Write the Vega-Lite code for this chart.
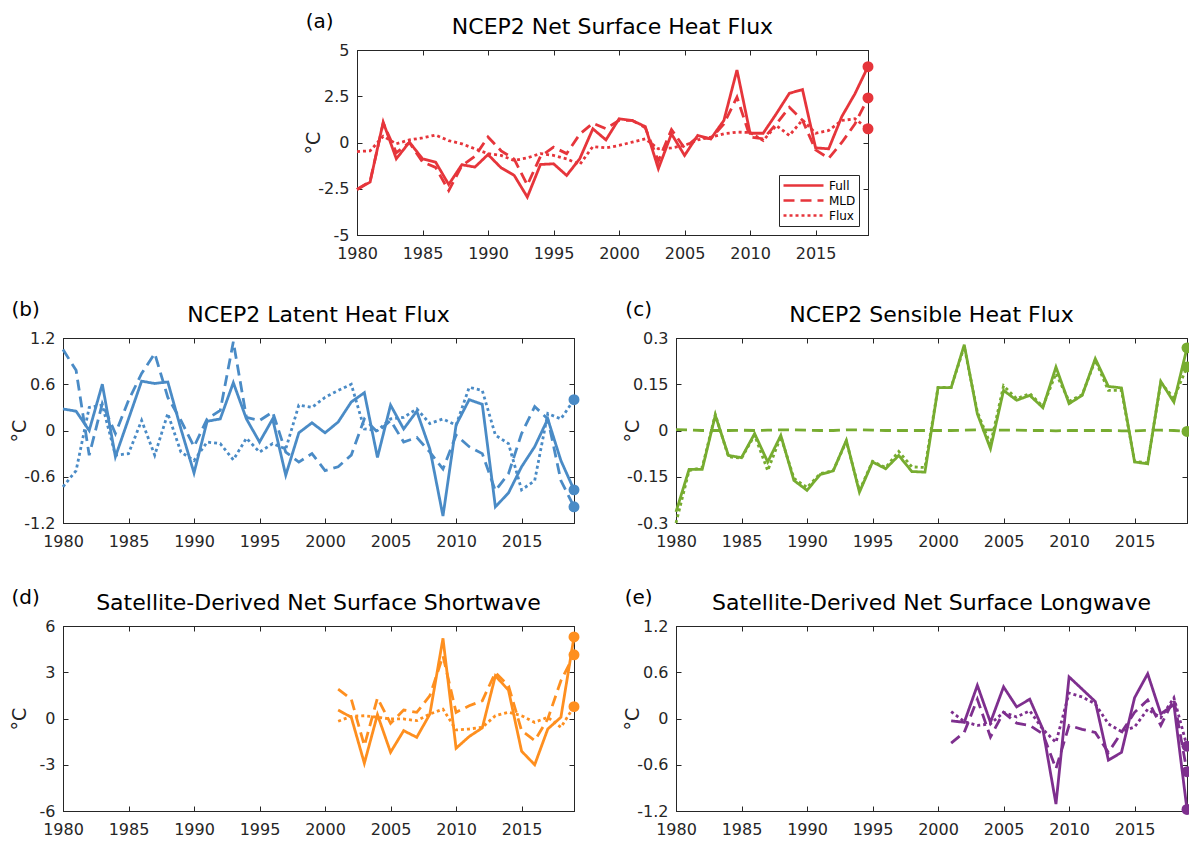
{
  "$schema": "https://vega.github.io/schema/vega-lite/v6.json",
  "padding": {"left": 9, "top": 11, "right": 0, "bottom": 0},
  "background": "white",
  "datasets": {
    "a": [
      {"year":1980,"series":"Full","value":-2.54},{"year":1981,"series":"Full","value":-2.14},{"year":1982,"series":"Full","value":1.10},{"year":1983,"series":"Full","value":-0.88},{"year":1984,"series":"Full","value":0.02},{"year":1985,"series":"Full","value":-0.88},{"year":1986,"series":"Full","value":-1.06},{"year":1987,"series":"Full","value":-2.27},{"year":1988,"series":"Full","value":-1.2},{"year":1989,"series":"Full","value":-1.33},{"year":1990,"series":"Full","value":-0.65},{"year":1991,"series":"Full","value":-1.37},{"year":1992,"series":"Full","value":-1.78},{"year":1993,"series":"Full","value":-2.95},{"year":1994,"series":"Full","value":-1.19},{"year":1995,"series":"Full","value":-1.15},{"year":1996,"series":"Full","value":-1.78},{"year":1997,"series":"Full","value":-0.88},{"year":1998,"series":"Full","value":0.74},{"year":1999,"series":"Full","value":0.14},{"year":2000,"series":"Full","value":1.28},{"year":2001,"series":"Full","value":1.19},{"year":2002,"series":"Full","value":0.86},{"year":2003,"series":"Full","value":-1.42},{"year":2004,"series":"Full","value":0.47},{"year":2005,"series":"Full","value":-0.70},{"year":2006,"series":"Full","value":0.38},{"year":2007,"series":"Full","value":0.2},{"year":2008,"series":"Full","value":1.19},{"year":2009,"series":"Full","value":3.92},{"year":2010,"series":"Full","value":0.5},{"year":2011,"series":"Full","value":0.5},{"year":2012,"series":"Full","value":1.55},{"year":2013,"series":"Full","value":2.66},{"year":2014,"series":"Full","value":2.86},{"year":2015,"series":"Full","value":-0.29},{"year":2016,"series":"Full","value":-0.34},{"year":2017,"series":"Full","value":1.40},{"year":2018,"series":"Full","value":2.63},{"year":2019,"series":"Full","value":4.1},
      {"year":1980,"series":"MLD","value":-2.54},{"year":1981,"series":"MLD","value":-2.1},{"year":1982,"series":"MLD","value":1.05},{"year":1983,"series":"MLD","value":-0.55},{"year":1984,"series":"MLD","value":0.0},{"year":1985,"series":"MLD","value":-1.05},{"year":1986,"series":"MLD","value":-1.35},{"year":1987,"series":"MLD","value":-2.6},{"year":1988,"series":"MLD","value":-1.25},{"year":1989,"series":"MLD","value":-0.75},{"year":1990,"series":"MLD","value":0.3},{"year":1991,"series":"MLD","value":-0.45},{"year":1992,"series":"MLD","value":-0.9},{"year":1993,"series":"MLD","value":-2.3},{"year":1994,"series":"MLD","value":-0.75},{"year":1995,"series":"MLD","value":-0.25},{"year":1996,"series":"MLD","value":-0.6},{"year":1997,"series":"MLD","value":0.45},{"year":1998,"series":"MLD","value":1.04},{"year":1999,"series":"MLD","value":0.75},{"year":2000,"series":"MLD","value":1.2},{"year":2001,"series":"MLD","value":1.2},{"year":2002,"series":"MLD","value":0.8},{"year":2003,"series":"MLD","value":-1.0},{"year":2004,"series":"MLD","value":0.7},{"year":2005,"series":"MLD","value":-0.3},{"year":2006,"series":"MLD","value":0.3},{"year":2007,"series":"MLD","value":0.2},{"year":2008,"series":"MLD","value":1.0},{"year":2009,"series":"MLD","value":2.45},{"year":2010,"series":"MLD","value":0.3},{"year":2011,"series":"MLD","value":0.2},{"year":2012,"series":"MLD","value":1.0},{"year":2013,"series":"MLD","value":1.9},{"year":2014,"series":"MLD","value":1.2},{"year":2015,"series":"MLD","value":-0.4},{"year":2016,"series":"MLD","value":-0.85},{"year":2017,"series":"MLD","value":0.0},{"year":2018,"series":"MLD","value":1.0},{"year":2019,"series":"MLD","value":2.41},
      {"year":1980,"series":"Flux","value":-0.49},{"year":1981,"series":"Flux","value":-0.45},{"year":1982,"series":"Flux","value":0.34},{"year":1983,"series":"Flux","value":-0.07},{"year":1984,"series":"Flux","value":0.14},{"year":1985,"series":"Flux","value":0.25},{"year":1986,"series":"Flux","value":0.4},{"year":1987,"series":"Flux","value":0.1},{"year":1988,"series":"Flux","value":-0.07},{"year":1989,"series":"Flux","value":-0.34},{"year":1990,"series":"Flux","value":-0.6},{"year":1991,"series":"Flux","value":-0.7},{"year":1992,"series":"Flux","value":-0.97},{"year":1993,"series":"Flux","value":-0.83},{"year":1994,"series":"Flux","value":-0.6},{"year":1995,"series":"Flux","value":-0.7},{"year":1996,"series":"Flux","value":-0.88},{"year":1997,"series":"Flux","value":-1.19},{"year":1998,"series":"Flux","value":-0.22},{"year":1999,"series":"Flux","value":-0.29},{"year":2000,"series":"Flux","value":-0.16},{"year":2001,"series":"Flux","value":0.02},{"year":2002,"series":"Flux","value":0.2},{"year":2003,"series":"Flux","value":-0.34},{"year":2004,"series":"Flux","value":-0.29},{"year":2005,"series":"Flux","value":-0.16},{"year":2006,"series":"Flux","value":0.14},{"year":2007,"series":"Flux","value":0.29},{"year":2008,"series":"Flux","value":0.47},{"year":2009,"series":"Flux","value":0.56},{"year":2010,"series":"Flux","value":0.54},{"year":2011,"series":"Flux","value":0.11},{"year":2012,"series":"Flux","value":0.92},{"year":2013,"series":"Flux","value":0.38},{"year":2014,"series":"Flux","value":1.22},{"year":2015,"series":"Flux","value":0.5},{"year":2016,"series":"Flux","value":0.65},{"year":2017,"series":"Flux","value":1.19},{"year":2018,"series":"Flux","value":1.28},{"year":2019,"series":"Flux","value":0.74}
    ],
    "b": [
      {"year":1980,"series":"Full","value":0.28},{"year":1981,"series":"Full","value":0.25},{"year":1982,"series":"Full","value":0.0},{"year":1983,"series":"Full","value":0.6},{"year":1984,"series":"Full","value":-0.34},{"year":1985,"series":"Full","value":0.15},{"year":1986,"series":"Full","value":0.64},{"year":1987,"series":"Full","value":0.61},{"year":1988,"series":"Full","value":0.63},{"year":1989,"series":"Full","value":0.02},{"year":1990,"series":"Full","value":-0.55},{"year":1991,"series":"Full","value":0.12},{"year":1992,"series":"Full","value":0.15},{"year":1993,"series":"Full","value":0.62},{"year":1994,"series":"Full","value":0.15},{"year":1995,"series":"Full","value":-0.15},{"year":1996,"series":"Full","value":0.15},{"year":1997,"series":"Full","value":-0.58},{"year":1998,"series":"Full","value":-0.03},{"year":1999,"series":"Full","value":0.1},{"year":2000,"series":"Full","value":-0.03},{"year":2001,"series":"Full","value":0.11},{"year":2002,"series":"Full","value":0.37},{"year":2003,"series":"Full","value":0.49},{"year":2004,"series":"Full","value":-0.35},{"year":2005,"series":"Full","value":0.33},{"year":2006,"series":"Full","value":0.02},{"year":2007,"series":"Full","value":0.25},{"year":2008,"series":"Full","value":-0.24},{"year":2009,"series":"Full","value":-1.11},{"year":2010,"series":"Full","value":0.07},{"year":2011,"series":"Full","value":0.4},{"year":2012,"series":"Full","value":0.34},{"year":2013,"series":"Full","value":-0.99},{"year":2014,"series":"Full","value":-0.81},{"year":2015,"series":"Full","value":-0.47},{"year":2016,"series":"Full","value":-0.21},{"year":2017,"series":"Full","value":0.15},{"year":2018,"series":"Full","value":-0.39},{"year":2019,"series":"Full","value":-0.77},
      {"year":1980,"series":"MLD","value":1.05},{"year":1981,"series":"MLD","value":0.78},{"year":1982,"series":"MLD","value":-0.32},{"year":1983,"series":"MLD","value":0.35},{"year":1984,"series":"MLD","value":-0.04},{"year":1985,"series":"MLD","value":0.39},{"year":1986,"series":"MLD","value":0.74},{"year":1987,"series":"MLD","value":1.0},{"year":1988,"series":"MLD","value":0.43},{"year":1989,"series":"MLD","value":0.13},{"year":1990,"series":"MLD","value":-0.21},{"year":1991,"series":"MLD","value":0.15},{"year":1992,"series":"MLD","value":0.26},{"year":1993,"series":"MLD","value":1.15},{"year":1994,"series":"MLD","value":0.17},{"year":1995,"series":"MLD","value":0.13},{"year":1996,"series":"MLD","value":0.24},{"year":1997,"series":"MLD","value":-0.28},{"year":1998,"series":"MLD","value":-0.41},{"year":1999,"series":"MLD","value":-0.3},{"year":2000,"series":"MLD","value":-0.52},{"year":2001,"series":"MLD","value":-0.47},{"year":2002,"series":"MLD","value":-0.32},{"year":2003,"series":"MLD","value":0.15},{"year":2004,"series":"MLD","value":-0.02},{"year":2005,"series":"MLD","value":0.13},{"year":2006,"series":"MLD","value":-0.15},{"year":2007,"series":"MLD","value":-0.09},{"year":2008,"series":"MLD","value":-0.28},{"year":2009,"series":"MLD","value":-0.5},{"year":2010,"series":"MLD","value":-0.06},{"year":2011,"series":"MLD","value":-0.21},{"year":2012,"series":"MLD","value":-0.3},{"year":2013,"series":"MLD","value":-0.78},{"year":2014,"series":"MLD","value":-0.56},{"year":2015,"series":"MLD","value":-0.04},{"year":2016,"series":"MLD","value":0.31},{"year":2017,"series":"MLD","value":0.15},{"year":2018,"series":"MLD","value":-0.65},{"year":2019,"series":"MLD","value":-0.99},
      {"year":1980,"series":"Flux","value":-0.73},{"year":1981,"series":"Flux","value":-0.52},{"year":1982,"series":"Flux","value":0.3},{"year":1983,"series":"Flux","value":0.33},{"year":1984,"series":"Flux","value":-0.32},{"year":1985,"series":"Flux","value":-0.3},{"year":1986,"series":"Flux","value":0.13},{"year":1987,"series":"Flux","value":-0.32},{"year":1988,"series":"Flux","value":0.22},{"year":1989,"series":"Flux","value":-0.28},{"year":1990,"series":"Flux","value":-0.39},{"year":1991,"series":"Flux","value":-0.15},{"year":1992,"series":"Flux","value":-0.17},{"year":1993,"series":"Flux","value":-0.38},{"year":1994,"series":"Flux","value":-0.1},{"year":1995,"series":"Flux","value":-0.28},{"year":1996,"series":"Flux","value":-0.17},{"year":1997,"series":"Flux","value":-0.24},{"year":1998,"series":"Flux","value":0.33},{"year":1999,"series":"Flux","value":0.3},{"year":2000,"series":"Flux","value":0.43},{"year":2001,"series":"Flux","value":0.52},{"year":2002,"series":"Flux","value":0.6},{"year":2003,"series":"Flux","value":0.02},{"year":2004,"series":"Flux","value":0.0},{"year":2005,"series":"Flux","value":0.15},{"year":2006,"series":"Flux","value":0.17},{"year":2007,"series":"Flux","value":0.28},{"year":2008,"series":"Flux","value":0.09},{"year":2009,"series":"Flux","value":0.15},{"year":2010,"series":"Flux","value":0.07},{"year":2011,"series":"Flux","value":0.56},{"year":2012,"series":"Flux","value":0.52},{"year":2013,"series":"Flux","value":-0.06},{"year":2014,"series":"Flux","value":-0.17},{"year":2015,"series":"Flux","value":-0.77},{"year":2016,"series":"Flux","value":-0.65},{"year":2017,"series":"Flux","value":0.22},{"year":2018,"series":"Flux","value":0.15},{"year":2019,"series":"Flux","value":0.4}
    ],
    "c": [
      {"year":1980,"series":"Full","value":-0.264},{"year":1981,"series":"Full","value":-0.126},{"year":1982,"series":"Full","value":-0.126},{"year":1983,"series":"Full","value":0.049},{"year":1984,"series":"Full","value":-0.081},{"year":1985,"series":"Full","value":-0.088},{"year":1986,"series":"Full","value":-0.01},{"year":1987,"series":"Full","value":-0.102},{"year":1988,"series":"Full","value":-0.016},{"year":1989,"series":"Full","value":-0.162},{"year":1990,"series":"Full","value":-0.194},{"year":1991,"series":"Full","value":-0.143},{"year":1992,"series":"Full","value":-0.131},{"year":1993,"series":"Full","value":-0.032},{"year":1994,"series":"Full","value":-0.2},{"year":1995,"series":"Full","value":-0.102},{"year":1996,"series":"Full","value":-0.124},{"year":1997,"series":"Full","value":-0.081},{"year":1998,"series":"Full","value":-0.133},{"year":1999,"series":"Full","value":-0.135},{"year":2000,"series":"Full","value":0.139},{"year":2001,"series":"Full","value":0.139},{"year":2002,"series":"Full","value":0.278},{"year":2003,"series":"Full","value":0.054},{"year":2004,"series":"Full","value":-0.059},{"year":2005,"series":"Full","value":0.13},{"year":2006,"series":"Full","value":0.098},{"year":2007,"series":"Full","value":0.114},{"year":2008,"series":"Full","value":0.074},{"year":2009,"series":"Full","value":0.206},{"year":2010,"series":"Full","value":0.087},{"year":2011,"series":"Full","value":0.114},{"year":2012,"series":"Full","value":0.233},{"year":2013,"series":"Full","value":0.143},{"year":2014,"series":"Full","value":0.138},{"year":2015,"series":"Full","value":-0.102},{"year":2016,"series":"Full","value":-0.108},{"year":2017,"series":"Full","value":0.159},{"year":2018,"series":"Full","value":0.092},{"year":2019,"series":"Full","value":0.268},
      {"year":1980,"series":"MLD","value":0.003},{"year":1981,"series":"MLD","value":0.002},{"year":1982,"series":"MLD","value":0.0},{"year":1983,"series":"MLD","value":0.0},{"year":1984,"series":"MLD","value":0.0},{"year":1985,"series":"MLD","value":0.001},{"year":1986,"series":"MLD","value":0.0},{"year":1987,"series":"MLD","value":0.001},{"year":1988,"series":"MLD","value":0.002},{"year":1989,"series":"MLD","value":0.002},{"year":1990,"series":"MLD","value":0.001},{"year":1991,"series":"MLD","value":0.0},{"year":1992,"series":"MLD","value":0.0},{"year":1993,"series":"MLD","value":0.002},{"year":1994,"series":"MLD","value":0.002},{"year":1995,"series":"MLD","value":0.001},{"year":1996,"series":"MLD","value":0.0},{"year":1997,"series":"MLD","value":0.0},{"year":1998,"series":"MLD","value":0.0},{"year":1999,"series":"MLD","value":0.0},{"year":2000,"series":"MLD","value":0.0},{"year":2001,"series":"MLD","value":0.0},{"year":2002,"series":"MLD","value":0.001},{"year":2003,"series":"MLD","value":0.002},{"year":2004,"series":"MLD","value":0.002},{"year":2005,"series":"MLD","value":0.001},{"year":2006,"series":"MLD","value":0.001},{"year":2007,"series":"MLD","value":0.0},{"year":2008,"series":"MLD","value":0.0},{"year":2009,"series":"MLD","value":-0.001},{"year":2010,"series":"MLD","value":0.0},{"year":2011,"series":"MLD","value":0.0},{"year":2012,"series":"MLD","value":0.0},{"year":2013,"series":"MLD","value":0.0},{"year":2014,"series":"MLD","value":-0.001},{"year":2015,"series":"MLD","value":-0.001},{"year":2016,"series":"MLD","value":0.001},{"year":2017,"series":"MLD","value":0.001},{"year":2018,"series":"MLD","value":0.0},{"year":2019,"series":"MLD","value":-0.003},
      {"year":1980,"series":"Flux","value":-0.3},{"year":1981,"series":"Flux","value":-0.13},{"year":1982,"series":"Flux","value":-0.12},{"year":1983,"series":"Flux","value":0.052},{"year":1984,"series":"Flux","value":-0.085},{"year":1985,"series":"Flux","value":-0.09},{"year":1986,"series":"Flux","value":-0.015},{"year":1987,"series":"Flux","value":-0.13},{"year":1988,"series":"Flux","value":-0.02},{"year":1989,"series":"Flux","value":-0.155},{"year":1990,"series":"Flux","value":-0.185},{"year":1991,"series":"Flux","value":-0.14},{"year":1992,"series":"Flux","value":-0.13},{"year":1993,"series":"Flux","value":-0.035},{"year":1994,"series":"Flux","value":-0.195},{"year":1995,"series":"Flux","value":-0.1},{"year":1996,"series":"Flux","value":-0.12},{"year":1997,"series":"Flux","value":-0.068},{"year":1998,"series":"Flux","value":-0.118},{"year":1999,"series":"Flux","value":-0.12},{"year":2000,"series":"Flux","value":0.14},{"year":2001,"series":"Flux","value":0.14},{"year":2002,"series":"Flux","value":0.272},{"year":2003,"series":"Flux","value":0.06},{"year":2004,"series":"Flux","value":-0.045},{"year":2005,"series":"Flux","value":0.145},{"year":2006,"series":"Flux","value":0.103},{"year":2007,"series":"Flux","value":0.12},{"year":2008,"series":"Flux","value":0.078},{"year":2009,"series":"Flux","value":0.185},{"year":2010,"series":"Flux","value":0.095},{"year":2011,"series":"Flux","value":0.116},{"year":2012,"series":"Flux","value":0.228},{"year":2013,"series":"Flux","value":0.13},{"year":2014,"series":"Flux","value":0.13},{"year":2015,"series":"Flux","value":-0.1},{"year":2016,"series":"Flux","value":-0.105},{"year":2017,"series":"Flux","value":0.155},{"year":2018,"series":"Flux","value":0.105},{"year":2019,"series":"Flux","value":0.206}
    ],
    "d": [
      {"year":2001,"series":"Full","value":0.55},{"year":2002,"series":"Full","value":0.08},{"year":2003,"series":"Full","value":-2.9},{"year":2004,"series":"Full","value":0.25},{"year":2005,"series":"Full","value":-2.19},{"year":2006,"series":"Full","value":-0.79},{"year":2007,"series":"Full","value":-1.22},{"year":2008,"series":"Full","value":0.29},{"year":2009,"series":"Full","value":5.2},{"year":2010,"series":"Full","value":-1.93},{"year":2011,"series":"Full","value":-1.17},{"year":2012,"series":"Full","value":-0.61},{"year":2013,"series":"Full","value":2.77},{"year":2014,"series":"Full","value":1.84},{"year":2015,"series":"Full","value":-2.12},{"year":2016,"series":"Full","value":-3.0},{"year":2017,"series":"Full","value":-0.68},{"year":2018,"series":"Full","value":0.08},{"year":2019,"series":"Full","value":5.29},
      {"year":2001,"series":"MLD","value":1.9},{"year":2002,"series":"MLD","value":1.26},{"year":2003,"series":"MLD","value":-1.76},{"year":2004,"series":"MLD","value":1.33},{"year":2005,"series":"MLD","value":-0.31},{"year":2006,"series":"MLD","value":0.55},{"year":2007,"series":"MLD","value":0.4},{"year":2008,"series":"MLD","value":1.48},{"year":2009,"series":"MLD","value":4.06},{"year":2010,"series":"MLD","value":0.4},{"year":2011,"series":"MLD","value":0.83},{"year":2012,"series":"MLD","value":1.15},{"year":2013,"series":"MLD","value":2.98},{"year":2014,"series":"MLD","value":2.12},{"year":2015,"series":"MLD","value":-0.79},{"year":2016,"series":"MLD","value":-1.43},{"year":2017,"series":"MLD","value":-0.03},{"year":2018,"series":"MLD","value":2.45},{"year":2019,"series":"MLD","value":4.13},
      {"year":2001,"series":"Flux","value":-0.18},{"year":2002,"series":"Flux","value":0.14},{"year":2003,"series":"Flux","value":0.18},{"year":2004,"series":"Flux","value":0.08},{"year":2005,"series":"Flux","value":-0.03},{"year":2006,"series":"Flux","value":-0.03},{"year":2007,"series":"Flux","value":-0.14},{"year":2008,"series":"Flux","value":0.29},{"year":2009,"series":"Flux","value":0.61},{"year":2010,"series":"Flux","value":-0.74},{"year":2011,"series":"Flux","value":-0.68},{"year":2012,"series":"Flux","value":-0.57},{"year":2013,"series":"Flux","value":0.18},{"year":2014,"series":"Flux","value":0.4},{"year":2015,"series":"Flux","value":0.18},{"year":2016,"series":"Flux","value":-0.25},{"year":2017,"series":"Flux","value":0.08},{"year":2018,"series":"Flux","value":-0.57},{"year":2019,"series":"Flux","value":0.77}
    ],
    "e": [
      {"year":2001,"series":"Full","value":-0.03},{"year":2002,"series":"Full","value":-0.05},{"year":2003,"series":"Full","value":0.43},{"year":2004,"series":"Full","value":-0.05},{"year":2005,"series":"Full","value":0.41},{"year":2006,"series":"Full","value":0.15},{"year":2007,"series":"Full","value":0.25},{"year":2008,"series":"Full","value":-0.14},{"year":2009,"series":"Full","value":-1.11},{"year":2010,"series":"Full","value":0.54},{"year":2011,"series":"Full","value":0.38},{"year":2012,"series":"Full","value":0.22},{"year":2013,"series":"Full","value":-0.54},{"year":2014,"series":"Full","value":-0.44},{"year":2015,"series":"Full","value":0.27},{"year":2016,"series":"Full","value":0.58},{"year":2017,"series":"Full","value":0.06},{"year":2018,"series":"Full","value":0.18},{"year":2019,"series":"Full","value":-1.18},
      {"year":2001,"series":"MLD","value":-0.32},{"year":2002,"series":"MLD","value":-0.18},{"year":2003,"series":"MLD","value":0.25},{"year":2004,"series":"MLD","value":-0.24},{"year":2005,"series":"MLD","value":0.08},{"year":2006,"series":"MLD","value":-0.06},{"year":2007,"series":"MLD","value":-0.09},{"year":2008,"series":"MLD","value":-0.2},{"year":2009,"series":"MLD","value":-0.65},{"year":2010,"series":"MLD","value":-0.09},{"year":2011,"series":"MLD","value":-0.14},{"year":2012,"series":"MLD","value":-0.18},{"year":2013,"series":"MLD","value":-0.44},{"year":2014,"series":"MLD","value":-0.18},{"year":2015,"series":"MLD","value":0.08},{"year":2016,"series":"MLD","value":0.24},{"year":2017,"series":"MLD","value":-0.09},{"year":2018,"series":"MLD","value":0.25},{"year":2019,"series":"MLD","value":-0.69},
      {"year":2001,"series":"Flux","value":0.09},{"year":2002,"series":"Flux","value":-0.04},{"year":2003,"series":"Flux","value":-0.09},{"year":2004,"series":"Flux","value":-0.07},{"year":2005,"series":"Flux","value":0.08},{"year":2006,"series":"Flux","value":0.02},{"year":2007,"series":"Flux","value":0.1},{"year":2008,"series":"Flux","value":-0.14},{"year":2009,"series":"Flux","value":-0.31},{"year":2010,"series":"Flux","value":0.33},{"year":2011,"series":"Flux","value":0.28},{"year":2012,"series":"Flux","value":0.19},{"year":2013,"series":"Flux","value":-0.07},{"year":2014,"series":"Flux","value":-0.17},{"year":2015,"series":"Flux","value":-0.11},{"year":2016,"series":"Flux","value":0.12},{"year":2017,"series":"Flux","value":0.01},{"year":2018,"series":"Flux","value":0.27},{"year":2019,"series":"Flux","value":-0.36}
    ]
  },
  "resolve": {"scale": {"strokeDash": "independent"}, "legend": {"strokeDash": "independent"}},
  "vconcat": [
    {
      "spacing": 0,
      "resolve": {"scale": {"strokeDash": "independent"}, "legend": {"strokeDash": "independent"}},
      "hconcat": [
        {
          "width": 240, "height": 10,
          "view": {"stroke": null},
          "data": {"values": [{}]},
          "mark": {"type": "text"},
          "encoding": {}
        },
        {
          "width": 511, "height": 185,
          "data": {"name": "a"},
          "title": {"text": "NCEP2 Net Surface Heat Flux"},
          "layer": [
            {
              "mark": {"type": "line", "color": "#e6353b", "strokeWidth": 2.8, "strokeCap": "butt"},
              "encoding": {
                "x": {"field": "year", "type": "quantitative", "scale": {"domain": [1980, 2019], "nice": false, "zero": false}, "axis": {"orient": "bottom", "title": null, "values": [1980,1985,1990,1995,2000,2005,2010,2015], "labelExpr": "'' + datum.value"}},
                "y": {"field": "value", "type": "quantitative", "scale": {"domain": [-5, 5], "nice": false, "zero": false}, "axis": {"orient": "left", "title": "°C", "values": [-5,-2.5,0,2.5,5], "labelExpr": "'' + datum.value", "minExtent": 30, "maxExtent": 30}},
                "strokeDash": {"field": "series", "type": "nominal", "scale": {"domain": ["Full","MLD","Flux"], "range": [[1,0],[11,6],[3,3]]},
                  "legend": {"orient": "bottom-right", "offset": 9, "title": null}}
              }
            },
            {
              "transform": [{"filter": "datum.year == 2019"}],
              "mark": {"type": "point", "filled": true, "color": "#e6353b", "size": 120, "opacity": 1},
              "encoding": {
                "x": {"field": "year", "type": "quantitative", "axis": {"orient": "top", "title": null, "labels": false, "values": [1980,1985,1990,1995,2000,2005,2010,2015]}},
                "y": {"field": "value", "type": "quantitative", "axis": {"orient": "right", "title": null, "labels": false, "values": [-5,-2.5,0,2.5,5]}}
              }
            },
            {
              "data": {"values": [{"panel": "(a)"}]},
              "mark": {"type": "text", "fontSize": 20, "align": "center", "baseline": "middle", "color": "black", "font": "DejaVu Sans"},
              "encoding": {
                "x": {"datum": 1977.15, "type": "quantitative", "axis": null},
                "y": {"datum": 6.514, "type": "quantitative", "axis": null},
                "text": {"field": "panel"}
              }
            }
          ],
          "resolve": {"axis": {"x": "independent", "y": "independent"}}
        }
      ]
    },
    {
      "spacing": 41,
      "resolve": {"scale": {"strokeDash": "independent"}, "legend": {"strokeDash": "independent"}},
      "hconcat": [
        {
          "width": 511, "height": 185,
          "data": {"name": "b"},
          "title": {"text": "NCEP2 Latent Heat Flux"},
          "layer": [
            {
              "mark": {"type": "line", "color": "#4a8bc6", "strokeWidth": 2.8, "strokeCap": "butt"},
              "encoding": {
                "x": {"field": "year", "type": "quantitative", "scale": {"domain": [1980, 2019], "nice": false, "zero": false}, "axis": {"orient": "bottom", "title": null, "values": [1980,1985,1990,1995,2000,2005,2010,2015], "labelExpr": "'' + datum.value"}},
                "y": {"field": "value", "type": "quantitative", "scale": {"domain": [-1.2, 1.2], "nice": false, "zero": false}, "axis": {"orient": "left", "title": "°C", "values": [-1.2,-0.6,0,0.6,1.2], "labelExpr": "'' + datum.value", "minExtent": 30, "maxExtent": 30}},
                "strokeDash": {"field": "series", "type": "nominal", "scale": {"domain": ["Full","MLD","Flux"], "range": [[1,0],[11,6],[3,3]]}, "legend": null}
              }
            },
            {
              "transform": [{"filter": "datum.year == 2019"}],
              "mark": {"type": "point", "filled": true, "color": "#4a8bc6", "size": 120, "opacity": 1},
              "encoding": {
                "x": {"field": "year", "type": "quantitative", "axis": {"orient": "top", "title": null, "labels": false, "values": [1980,1985,1990,1995,2000,2005,2010,2015]}},
                "y": {"field": "value", "type": "quantitative", "axis": {"orient": "right", "title": null, "labels": false, "values": [-1.2,-0.6,0,0.6,1.2]}}
              }
            },
            {
              "data": {"values": [{"panel": "(b)"}]},
              "mark": {"type": "text", "fontSize": 20, "align": "center", "baseline": "middle", "color": "black", "font": "DejaVu Sans"},
              "encoding": {
                "x": {"datum": 1977.15, "type": "quantitative", "axis": null},
                "y": {"datum": 1.563, "type": "quantitative", "axis": null},
                "text": {"field": "panel"}
              }
            }
          ],
          "resolve": {"axis": {"x": "independent", "y": "independent"}}
        },
        {
          "width": 511, "height": 185,
          "data": {"name": "c"},
          "title": {"text": "NCEP2 Sensible Heat Flux"},
          "layer": [
            {
              "mark": {"type": "line", "color": "#77ac30", "strokeWidth": 2.8, "strokeCap": "butt"},
              "encoding": {
                "x": {"field": "year", "type": "quantitative", "scale": {"domain": [1980, 2019], "nice": false, "zero": false}, "axis": {"orient": "bottom", "title": null, "values": [1980,1985,1990,1995,2000,2005,2010,2015], "labelExpr": "'' + datum.value"}},
                "y": {"field": "value", "type": "quantitative", "scale": {"domain": [-0.3, 0.3], "nice": false, "zero": false}, "axis": {"orient": "left", "title": "°C", "values": [-0.3,-0.15,0,0.15,0.3], "labelExpr": "'' + datum.value", "minExtent": 30, "maxExtent": 30}},
                "strokeDash": {"field": "series", "type": "nominal", "scale": {"domain": ["Full","MLD","Flux"], "range": [[1,0],[11,6],[3,3]]}, "legend": null}
              }
            },
            {
              "transform": [{"filter": "datum.year == 2019"}],
              "mark": {"type": "point", "filled": true, "color": "#77ac30", "size": 120, "opacity": 1},
              "encoding": {
                "x": {"field": "year", "type": "quantitative", "axis": {"orient": "top", "title": null, "labels": false, "values": [1980,1985,1990,1995,2000,2005,2010,2015]}},
                "y": {"field": "value", "type": "quantitative", "axis": {"orient": "right", "title": null, "labels": false, "values": [-0.3,-0.15,0,0.15,0.3]}}
              }
            },
            {
              "data": {"values": [{"panel": "(c)"}]},
              "mark": {"type": "text", "fontSize": 20, "align": "center", "baseline": "middle", "color": "black", "font": "DejaVu Sans"},
              "encoding": {
                "x": {"datum": 1977.15, "type": "quantitative", "axis": null},
                "y": {"datum": 0.391, "type": "quantitative", "axis": null},
                "text": {"field": "panel"}
              }
            }
          ],
          "resolve": {"axis": {"x": "independent", "y": "independent"}}
        }
      ]
    },
    {
      "spacing": 41,
      "resolve": {"scale": {"strokeDash": "independent"}, "legend": {"strokeDash": "independent"}},
      "hconcat": [
        {
          "width": 511, "height": 185,
          "data": {"name": "d"},
          "title": {"text": "Satellite-Derived Net Surface Shortwave"},
          "layer": [
            {
              "mark": {"type": "line", "color": "#fe8f1f", "strokeWidth": 2.8, "strokeCap": "butt"},
              "encoding": {
                "x": {"field": "year", "type": "quantitative", "scale": {"domain": [1980, 2019], "nice": false, "zero": false}, "axis": {"orient": "bottom", "title": null, "values": [1980,1985,1990,1995,2000,2005,2010,2015], "labelExpr": "'' + datum.value"}},
                "y": {"field": "value", "type": "quantitative", "scale": {"domain": [-6, 6], "nice": false, "zero": false}, "axis": {"orient": "left", "title": "°C", "values": [-6,-3,0,3,6], "labelExpr": "'' + datum.value", "minExtent": 30, "maxExtent": 30}},
                "strokeDash": {"field": "series", "type": "nominal", "scale": {"domain": ["Full","MLD","Flux"], "range": [[1,0],[11,6],[3,3]]}, "legend": null}
              }
            },
            {
              "transform": [{"filter": "datum.year == 2019"}],
              "mark": {"type": "point", "filled": true, "color": "#fe8f1f", "size": 120, "opacity": 1},
              "encoding": {
                "x": {"field": "year", "type": "quantitative", "axis": {"orient": "top", "title": null, "labels": false, "values": [1980,1985,1990,1995,2000,2005,2010,2015]}},
                "y": {"field": "value", "type": "quantitative", "axis": {"orient": "right", "title": null, "labels": false, "values": [-6,-3,0,3,6]}}
              }
            },
            {
              "data": {"values": [{"panel": "(d)"}]},
              "mark": {"type": "text", "fontSize": 20, "align": "center", "baseline": "middle", "color": "black", "font": "DejaVu Sans"},
              "encoding": {
                "x": {"datum": 1977.15, "type": "quantitative", "axis": null},
                "y": {"datum": 7.816, "type": "quantitative", "axis": null},
                "text": {"field": "panel"}
              }
            }
          ],
          "resolve": {"axis": {"x": "independent", "y": "independent"}}
        },
        {
          "width": 511, "height": 185,
          "data": {"name": "e"},
          "title": {"text": "Satellite-Derived Net Surface Longwave"},
          "layer": [
            {
              "mark": {"type": "line", "color": "#7e2f8e", "strokeWidth": 2.8, "strokeCap": "butt"},
              "encoding": {
                "x": {"field": "year", "type": "quantitative", "scale": {"domain": [1980, 2019], "nice": false, "zero": false}, "axis": {"orient": "bottom", "title": null, "values": [1980,1985,1990,1995,2000,2005,2010,2015], "labelExpr": "'' + datum.value"}},
                "y": {"field": "value", "type": "quantitative", "scale": {"domain": [-1.2, 1.2], "nice": false, "zero": false}, "axis": {"orient": "left", "title": "°C", "values": [-1.2,-0.6,0,0.6,1.2], "labelExpr": "'' + datum.value", "minExtent": 30, "maxExtent": 30}},
                "strokeDash": {"field": "series", "type": "nominal", "scale": {"domain": ["Full","MLD","Flux"], "range": [[1,0],[11,6],[3,3]]}, "legend": null}
              }
            },
            {
              "transform": [{"filter": "datum.year == 2019"}],
              "mark": {"type": "point", "filled": true, "color": "#7e2f8e", "size": 120, "opacity": 1},
              "encoding": {
                "x": {"field": "year", "type": "quantitative", "axis": {"orient": "top", "title": null, "labels": false, "values": [1980,1985,1990,1995,2000,2005,2010,2015]}},
                "y": {"field": "value", "type": "quantitative", "axis": {"orient": "right", "title": null, "labels": false, "values": [-1.2,-0.6,0,0.6,1.2]}}
              }
            },
            {
              "data": {"values": [{"panel": "(e)"}]},
              "mark": {"type": "text", "fontSize": 20, "align": "center", "baseline": "middle", "color": "black", "font": "DejaVu Sans"},
              "encoding": {
                "x": {"datum": 1977.15, "type": "quantitative", "axis": null},
                "y": {"datum": 1.563, "type": "quantitative", "axis": null},
                "text": {"field": "panel"}
              }
            }
          ],
          "resolve": {"axis": {"x": "independent", "y": "independent"}}
        }
      ]
    }
  ],
  "spacing": 37,
  "config": {
    "font": "DejaVu Sans",
    "view": {"stroke": "#262626", "strokeWidth": 1},
    "axis": {
      "grid": false,
      "domainColor": "#262626", "domainWidth": 1,
      "tickColor": "#262626", "tickWidth": 1, "tickSize": -5,
      "labelColor": "#262626", "labelFont": "DejaVu Sans", "labelFontSize": 16, "labelFlush": false, "labelOverlap": false,
      "titleColor": "#262626", "titleFont": "DejaVu Sans", "titleFontSize": 19, "titleFontWeight": "normal", "titlePadding": 4
    },
    "axisX": {"labelPadding": 15},
    "axisY": {"labelPadding": 13},
    "title": {"font": "DejaVu Sans", "fontSize": 22, "fontWeight": "normal", "color": "black", "anchor": "middle", "frame": "group", "baseline": "alphabetic", "offset": -27},
    "legend": {
      "symbolType": "stroke", "symbolSize": 1600, "symbolStrokeColor": "#e6353b", "symbolStrokeWidth": 2.5,
      "labelFont": "DejaVu Sans", "labelFontSize": 12, "labelColor": "black", "labelOffset": 4,
      "strokeColor": "#262626", "fillColor": "white", "padding": 3, "rowPadding": 0, "clipHeight": 15
    }
  }
}
